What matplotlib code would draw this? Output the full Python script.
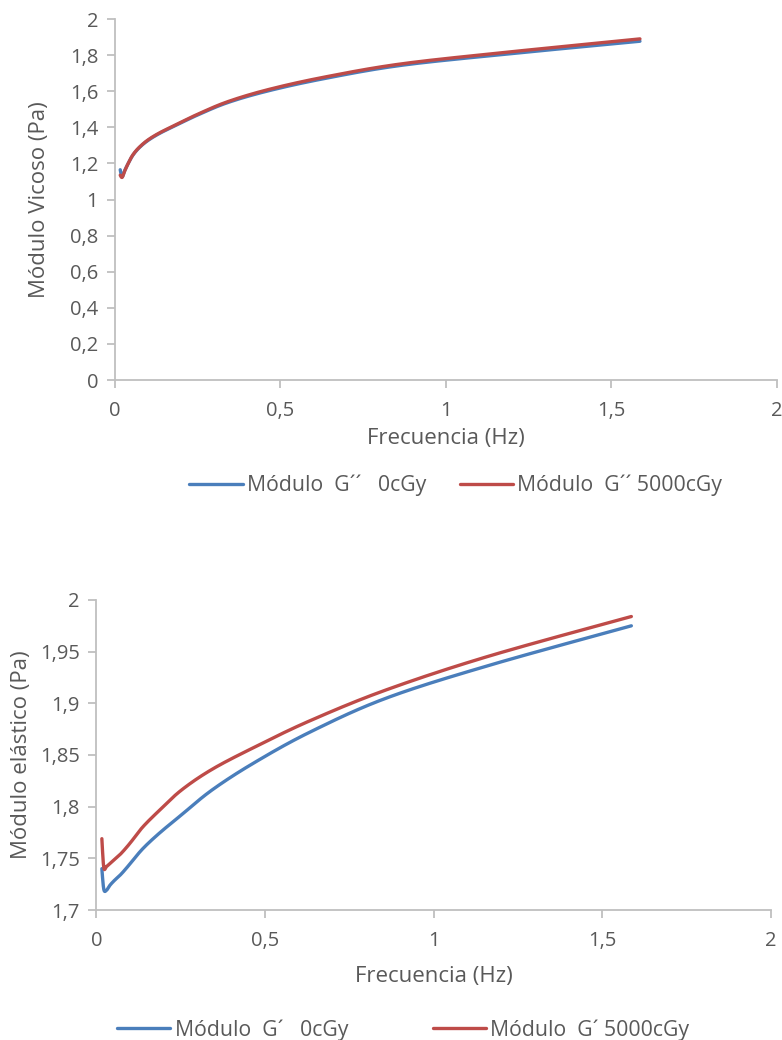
import matplotlib
matplotlib.use("Agg")
import numpy as np
import matplotlib.pyplot as plt
from matplotlib.ticker import FixedLocator, FuncFormatter

# Frequency sweep (Hz)
freq = [0.0159, 0.0216, 0.0294, 0.0400, 0.0543, 0.0738, 0.1003, 0.1363,
        0.1852, 0.2517, 0.342, 0.465, 0.632, 0.859, 1.167, 1.586]

# Loss modulus G'' (Pa)
g2_0 = [1.165, 1.125, 1.160, 1.200, 1.246, 1.288, 1.328, 1.368,
        1.412, 1.470, 1.538, 1.603, 1.670, 1.742, 1.803, 1.877]
g2_5000 = [1.135, 1.123, 1.158, 1.200, 1.248, 1.290, 1.331, 1.371,
           1.415, 1.474, 1.543, 1.610, 1.678, 1.750, 1.813, 1.890]

# Storage modulus G' (Pa)
g1_0 = [1.740, 1.720, 1.719, 1.724, 1.729, 1.735, 1.745, 1.759,
        1.774, 1.792, 1.816, 1.842, 1.872, 1.905, 1.937, 1.975]
g1_5000 = [1.769, 1.741, 1.742, 1.745, 1.749, 1.755, 1.765, 1.780,
           1.796, 1.816, 1.836, 1.857, 1.883, 1.913, 1.946, 1.984]

labels_top = ["Módulo  G´´   0cGy", "Módulo  G´´ 5000cGy"]
labels_bot = ["Módulo  G´   0cGy", "Módulo  G´ 5000cGy"]

BLUE = "#4a7ebb"
RED = "#be4b48"
TEXT = "#595959"
AXIS = "#bfbfbf"

plt.rcParams["font.family"] = ["Open Sans", "DejaVu Sans"]


def smooth(xs, ys, n=24):
    """Smoothed line through the points (cubic Bezier, Catmull-Rom tangents)."""
    x = np.asarray(xs, float)
    y = np.asarray(ys, float)
    px, py = [x[0]], [y[0]]
    t = np.linspace(0, 1, n + 1)[1:]
    for i in range(len(x) - 1):
        i0, i3 = max(i - 1, 0), min(i + 2, len(x) - 1)
        c1x = x[i] + (x[i + 1] - x[i0]) / 6
        c1y = y[i] + (y[i + 1] - y[i0]) / 6
        c2x = x[i + 1] - (x[i3] - x[i]) / 6
        c2y = y[i + 1] - (y[i3] - y[i]) / 6
        b0, b1 = (1 - t) ** 3, 3 * (1 - t) ** 2 * t
        b2, b3 = 3 * (1 - t) * t ** 2, t ** 3
        px.extend(b0 * x[i] + b1 * c1x + b2 * c2x + b3 * x[i + 1])
        py.extend(b0 * y[i] + b1 * c1y + b2 * c2y + b3 * y[i + 1])
    return np.array(px), np.array(py)


fig = plt.figure(figsize=(7.82, 10.40), dpi=100)
ax1 = fig.add_axes([0.147, 0.6346, 0.8466, 0.3471])
ax2 = fig.add_axes([0.1234, 0.125, 0.8625, 0.2981])


def comma(v, _pos):
    s = f"{v:.2f}".rstrip("0").rstrip(".")
    return s.replace(".", ",")


def style(ax, yticks):
    for side in ("top", "right"):
        ax.spines[side].set_visible(False)
    for side in ("left", "bottom"):
        ax.spines[side].set_color(AXIS)
        ax.spines[side].set_linewidth(1.3)
    ax.set_xlim(0, 2)
    ax.xaxis.set_major_locator(FixedLocator([0, 0.5, 1, 1.5, 2]))
    ax.yaxis.set_major_locator(FixedLocator(yticks))
    ax.xaxis.set_major_formatter(FuncFormatter(comma))
    ax.yaxis.set_major_formatter(FuncFormatter(comma))
    ax.tick_params(axis="both", direction="out", length=6, width=1.3,
                   color=AXIS, labelcolor=TEXT, labelsize=14.5)
    ax.tick_params(axis="x", pad=9)
    ax.tick_params(axis="y", pad=6)


leg_kw = dict(ncol=2, frameon=False, fontsize=15.3, labelcolor=TEXT,
              handlelength=2.5, handletextpad=0.2, loc="upper center")

# Upper panel: viscous modulus
l1, = ax1.plot(*smooth(freq, g2_0), color=BLUE, lw=2.4, solid_capstyle="round")
l2, = ax1.plot(*smooth(freq, g2_5000), color=RED, lw=2.4, solid_capstyle="round")
ax1.set_ylim(0, 2)
style(ax1, [0, 0.2, 0.4, 0.6, 0.8, 1.0, 1.2, 1.4, 1.6, 1.8, 2.0])
ax1.set_xlabel("Frecuencia (Hz)", fontsize=16, color=TEXT, labelpad=5)
ax1.set_ylabel("Módulo Vicoso (Pa)", fontsize=16, color=TEXT)
ax1.yaxis.set_label_coords(-0.098, 0.5)
ax1.legend([l1, l2], labels_top, bbox_to_anchor=(0.515, -0.21),
           columnspacing=1.6, **leg_kw)

# Lower panel: elastic modulus
l3, = ax2.plot(*smooth(freq, g1_0), color=BLUE, lw=2.4, solid_capstyle="round")
l4, = ax2.plot(*smooth(freq, g1_5000), color=RED, lw=2.4, solid_capstyle="round")
ax2.set_ylim(1.7, 2.0)
style(ax2, [1.7, 1.75, 1.8, 1.85, 1.9, 1.95, 2.0])
ax2.set_xlabel("Frecuencia (Hz)", fontsize=16, color=TEXT, labelpad=11)
ax2.set_ylabel("Módulo elástico (Pa)", fontsize=16, color=TEXT)
ax2.yaxis.set_label_coords(-0.096, 0.5)
ax2.legend([l3, l4], labels_bot, bbox_to_anchor=(0.455, -0.29),
           columnspacing=4.0, **leg_kw)

fig.savefig("out.png", dpi=100, facecolor="white")
